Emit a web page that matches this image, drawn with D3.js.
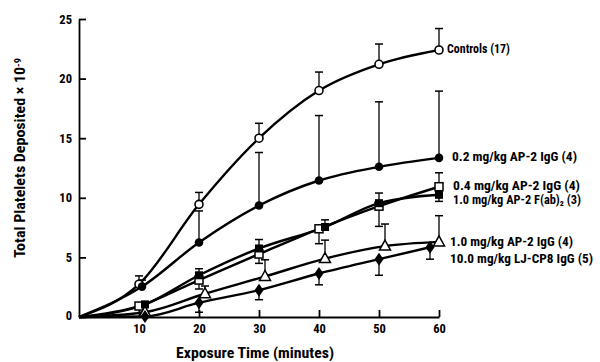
<!DOCTYPE html>
<html><head><meta charset="utf-8">
<script src="https://cdn.jsdelivr.net/npm/d3@7"></script>
<style>
body{margin:0;background:#fff;}
text{font-family:"Liberation Sans Narrow","Arial Narrow","Roboto Condensed","Liberation Sans",sans-serif;font-weight:bold;fill:#000;}
</style></head>
<body><svg id="c" width="600" height="362"></svg>
<script>
// ---- data ----
const xTicks = [10, 20, 30, 40, 50, 60];
const yTicks = [0, 5, 10, 15, 20, 25];

const controlsT   = [10, 20, 30, 40, 50, 60];
const controlsV   = [2.75, 9.45, 15.0, 19.0, 21.2, 22.4];
const controlsHi  = [3.45, 10.45, 16.25, 20.55, 22.9, 24.2];

const ap02T  = [10.5, 20, 30, 40, 50, 60];
const ap02V  = [2.55, 6.25, 9.35, 11.45, 12.6, 13.35];
const ap02Hi = [3.1, 8.9, 13.8, 16.9, 18.05, 18.95];

const ap04T  = [10, 20, 30, 40, 50, 60];
const ap04V  = [0.92, 3.1, 5.28, 7.4, 9.3, 10.93];
const ap04Lo = [0.92, 2.35, 4.5, 6.15, 7.6, 10.93];
const ap04Hi = [0.92, 3.1, 5.28, 7.4, 9.3, 12.1];

const fabT  = [11, 20, 30, 41, 50, 60];
const fabV  = [1.05, 3.5, 5.75, 7.55, 9.55, 10.25];
const fabLo = [1.05, 3.5, 5.75, 7.55, 9.55, 9.7];
const fabHi = [1.3, 4.05, 6.5, 8.15, 10.4, 10.6];

const ap10T  = [11, 21, 31, 41, 51, 60];
const ap10V  = [0.4, 1.95, 3.4, 4.9, 5.95, 6.3];
const ap10Hi = [0.4, 2.6, 4.8, 6.45, 7.8, 8.5];

const ljT  = [11, 20, 30, 40, 50, 58.5];
const ljV  = [0.05, 1.2, 2.25, 3.65, 4.85, 5.85];
const ljLo = [0.05, 0.4, 1.45, 2.7, 3.5, 4.85];

const labels = ["Controls (17)", "0.2 mg/kg  AP-2 IgG (4)", "0.4 mg/kg  AP-2 IgG (4)",
  "1.0 mg/kg  AP-2 F(ab)₂ (3)", "1.0 mg/kg  AP-2 IgG (4)", "10.0 mg/kg LJ-CP8 IgG (5)"];

// ---- chart ----
const svg = d3.select("#c");
const x = d3.scaleLinear().domain([0, 60]).range([79, 439]);
const y = d3.scaleLinear().domain([0, 25]).range([317, 19]);

const series = [
  {t: controlsT, v: controlsV, lo: controlsV, hi: controlsHi, m: "circleOpen"},
  {t: ap02T, v: ap02V, lo: ap02V, hi: ap02Hi, m: "circleFilled"},
  {t: ap04T, v: ap04V, lo: ap04Lo, hi: ap04Hi, m: "squareOpen"},
  {t: fabT, v: fabV, lo: fabLo, hi: fabHi, m: "squareFilled"},
  {t: ap10T, v: ap10V, lo: ap10V, hi: ap10Hi, m: "triOpen"},
  {t: ljT, v: ljV, lo: ljLo, hi: ljV, m: "diamond"}
];

// axes
const ya = d3.axisLeft(y).tickValues(yTicks).tickSizeInner(-7).tickSizeOuter(0).tickPadding(7);
const yg = svg.append("g").attr("transform", "translate(79,0)").call(ya);
const xa = d3.axisBottom(x).tickValues(xTicks).tickSizeInner(-7).tickSizeOuter(0).tickPadding(7);
const xg = svg.append("g").attr("transform", "translate(0,317)").call(xa);
[yg, xg].forEach(g => {
  g.selectAll("path,line").attr("stroke", "#000").attr("stroke-width", 1.8);
  g.selectAll("text").style("font-size", "12.5px").attr("fill", "#000");
});
yg.select(".tick text").attr("dy", "0.2em");

// lines
const line = d3.line().x(d => x(d[0])).y(d => y(d[1])).curve(d3.curveMonotoneX);
series.forEach(s => {
  const pts = [[0, 0]].concat(s.t.map((t, i) => [t, s.v[i]]));
  svg.append("path").attr("d", line(pts)).attr("fill", "none")
    .attr("stroke", "#000").attr("stroke-width", 2.4);
});

// error bars
series.forEach(s => {
  s.t.forEach((t, i) => {
    const cx = x(t);
    [[s.hi[i], s.v[i]], [s.lo[i], s.v[i]]].forEach(([e, v]) => {
      if (Math.abs(e - v) < 0.05) return;
      svg.append("line").attr("x1", cx).attr("x2", cx).attr("y1", y(v)).attr("y2", y(e))
        .attr("stroke", "#000").attr("stroke-width", 1.3);
      svg.append("line").attr("x1", cx - 4).attr("x2", cx + 4).attr("y1", y(e)).attr("y2", y(e))
        .attr("stroke", "#000").attr("stroke-width", 1.5);
    });
  });
});

// markers
function marker(m, cx, cy) {
  if (m === "circleOpen") svg.append("circle").attr("cx", cx).attr("cy", cy).attr("r", 4)
    .attr("fill", "#fff").attr("stroke", "#000").attr("stroke-width", 1.6);
  else if (m === "circleFilled") svg.append("circle").attr("cx", cx).attr("cy", cy).attr("r", 4.3).attr("fill", "#000");
  else if (m === "squareOpen") svg.append("rect").attr("x", cx - 4).attr("y", cy - 4).attr("width", 8).attr("height", 8)
    .attr("fill", "#fff").attr("stroke", "#000").attr("stroke-width", 1.5);
  else if (m === "squareFilled") svg.append("rect").attr("x", cx - 4).attr("y", cy - 4).attr("width", 8).attr("height", 8).attr("fill", "#000");
  else if (m === "triOpen") svg.append("path").attr("d", `M${cx},${cy - 6}L${cx + 5.5},${cy + 4}L${cx - 5.5},${cy + 4}Z`)
    .attr("fill", "#fff").attr("stroke", "#000").attr("stroke-width", 1.5);
  else if (m === "diamond") svg.append("path").attr("d", `M${cx},${cy - 6.5}L${cx + 4.5},${cy}L${cx},${cy + 6.5}L${cx - 4.5},${cy}Z`).attr("fill", "#000");
}
series.forEach(s => s.t.forEach((t, i) => marker(s.m, x(t), y(s.v[i]))));

// series labels
const labPos = [[447, 49], [452, 157], [453, 186], [453, 200], [450, 242], [450, 259]];
const labW = [63, 125, 127, 128, 123, 143];
labels.forEach((l, i) => {
  svg.append("text").attr("x", labPos[i][0]).attr("y", labPos[i][1]).attr("dy", "0.35em")
    .attr("textLength", labW[i]).attr("lengthAdjust", "spacingAndGlyphs")
    .style("font-size", "12.5px").text(l);
});

// axis titles
svg.append("text").attr("x", 255).attr("y", 358).attr("text-anchor", "middle")
  .attr("textLength", 158).attr("lengthAdjust", "spacingAndGlyphs")
  .style("font-size", "14px").text("Exposure Time (minutes)");
const yt = svg.append("text").attr("transform", "translate(25,158) rotate(-90)").attr("text-anchor", "middle")
  .attr("textLength", 200).attr("lengthAdjust", "spacingAndGlyphs").style("font-size", "14px");
yt.append("tspan").text("Total Platelets Deposited  × 10");
yt.append("tspan").attr("dy", "-0.45em").style("font-size", "9px").text("-9");
</script></body></html>
